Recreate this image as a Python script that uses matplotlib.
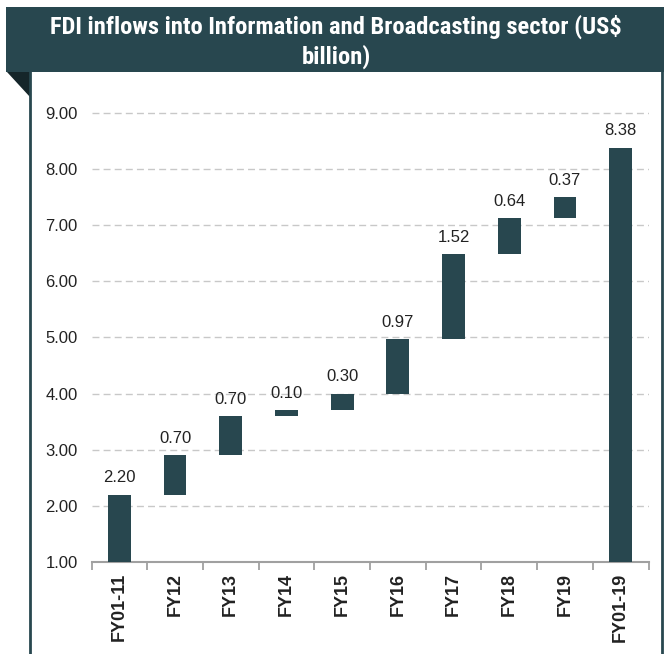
#!/usr/bin/env python3
# -*- coding: utf-8 -*-

"""
Waterfall chart: FDI inflows into Information and Broadcasting sector
"""

import numpy as np
import matplotlib
matplotlib.use("Agg")
import matplotlib.pyplot as plt
from matplotlib.patches import Rectangle, Polygon
from matplotlib.lines import Line2D
from matplotlib import font_manager

# data
categories = ["FY01-11", "FY12", "FY13", "FY14", "FY15",
              "FY16", "FY17", "FY18", "FY19", "FY01-19"]
values = [2.20, 0.70, 0.70, 0.10, 0.30, 0.97, 1.52, 0.64, 0.37, 8.38]
is_total = [True, False, False, False, False, False, False, False, False, True]
yticks = [1, 2, 3, 4, 5, 6, 7, 8, 9]
title = "FDI inflows into Information and Broadcasting sector (US$\nbillion)"

teal = "#28474f"
dark = "#15262a"

# waterfall bottoms / heights
bottoms = []
running = 0.0
for v, tot in zip(values, is_total):
    if tot:
        bottoms.append(0.0)
        running = v
    else:
        bottoms.append(running)
        running += v
bottoms = np.array(bottoms)
tops = bottoms + np.array(values)

W, H = 664, 654
fig = plt.figure(figsize=(W / 100, H / 100), dpi=100)

# header banner, folded corner and frame
fig.patches.append(Rectangle((6 / W, 1 - 72 / H), 1 - 6 / W, 65 / H,
                             transform=fig.transFigure, facecolor=teal,
                             edgecolor="none", zorder=0))
fig.patches.append(Polygon([(7 / W, 1 - 72 / H), (30 / W, 1 - 72 / H),
                            (30 / W, 1 - 97 / H)], closed=True,
                           transform=fig.transFigure, facecolor=dark,
                           edgecolor="none", zorder=0))
for xp in (30, 662):
    fig.lines.append(Line2D([xp / W, xp / W], [0, 1 - 72 / H],
                            transform=fig.transFigure, color=teal, lw=2))

# pick a narrow face if one is around
narrow = None
for name in ["Liberation Sans Narrow", "DejaVu Sans Condensed", "Roboto Condensed"]:
    try:
        font_manager.findfont(font_manager.FontProperties(family=name),
                              fallback_to_default=False)
        narrow = name
        break
    except ValueError:
        pass
tfam = [narrow] if narrow else ["Liberation Sans"]

ttl = fig.text(336 / W, 1 - 42 / H, title, ha="center", va="center",
               color="white", fontsize=15.5, fontweight="bold", family=tfam)
# size the title so line one spans about 570 px like the reference
r = fig.canvas.get_renderer()
first = fig.text(0, 0, title.split("\n")[0], fontsize=15.5,
                 fontweight="bold", family=tfam)
wpx = first.get_window_extent(r).width
first.remove()
fs = 15.5 * 570 / wpx
ttl.set_fontsize(fs)
# about 31 px between the two baselines
ttl.set_linespacing(31 / (fs * 100 / 72))

ax = fig.add_axes([91.5 / W, 1 - 562 / H, 557 / W, 466 / H])
x = np.arange(len(categories))
ax.bar(x, values, bottom=bottoms, width=0.41, color=teal, zorder=3)

for xi, t, v in zip(x, tops, values):
    ax.annotate(f"{v:.2f}", (xi, t), xytext=(0, 12), textcoords="offset points",
                ha="center", va="center", fontsize=12, color="#222222",
                family="Liberation Sans")

ax.set_xlim(-0.5, len(categories) - 0.5)
ax.set_ylim(1, 9.3)
ax.set_yticks(yticks)
ax.set_yticklabels([f"{t:.2f}" for t in yticks], fontsize=12,
                   family="Liberation Sans", color="#222222")
ax.set_xticks(x)
ax.set_xticklabels(categories, rotation=90, fontsize=13, fontweight="bold",
                   family="Liberation Sans", color="#222222")
ax.set_xticks(np.arange(len(categories) + 1) - 0.5, minor=True)
ax.tick_params(axis="x", which="major", length=0, pad=8)
ax.tick_params(axis="x", which="minor", length=6, color="#a0a0a0", width=1.3)
ax.tick_params(axis="y", length=0, pad=10)

ax.grid(axis="y", color="#c8c8c8", linestyle=(0, (5, 3)), lw=1, zorder=0)
ax.spines["bottom"].set_color("#a0a0a0")
ax.spines["bottom"].set_linewidth(1.5)
ax.spines["top"].set_visible(False)
ax.spines["right"].set_visible(False)
ax.spines["left"].set_visible(False)

plt.savefig("out.png", dpi=100)
